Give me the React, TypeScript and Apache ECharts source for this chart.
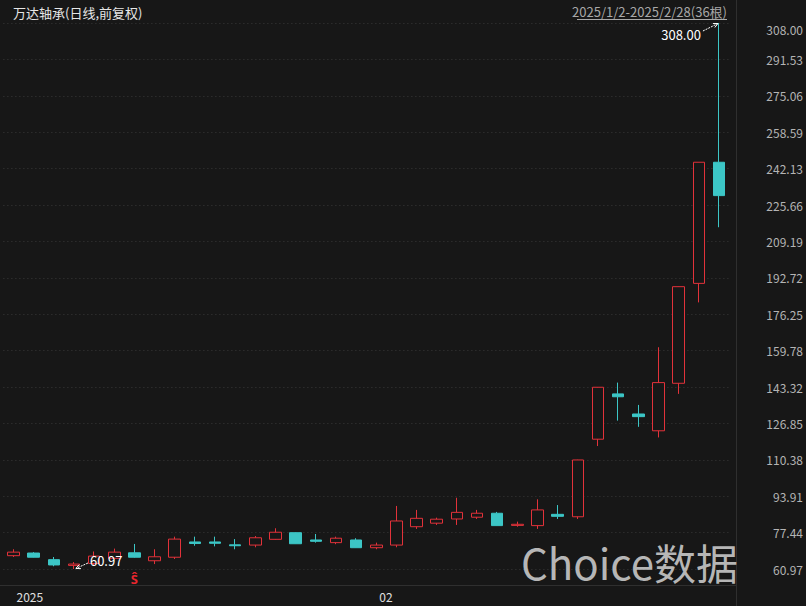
import React, { useEffect, useRef } from 'react';
import * as echarts from 'echarts';

const dates = [
  '2025-01-02', '2025-01-03', '2025-01-06', '2025-01-07', '2025-01-08', '2025-01-09',
  '2025-01-10', '2025-01-13', '2025-01-14', '2025-01-15', '2025-01-16', '2025-01-17',
  '2025-01-20', '2025-01-21', '2025-01-22', '2025-01-23', '2025-01-24', '2025-01-27',
  '2025-02-05', '2025-02-06', '2025-02-07', '2025-02-10', '2025-02-11', '2025-02-12',
  '2025-02-13', '2025-02-14', '2025-02-17', '2025-02-18', '2025-02-19', '2025-02-20',
  '2025-02-21', '2025-02-24', '2025-02-25', '2025-02-26', '2025-02-27', '2025-02-28',
];
const opens = [
  67.0, 68.2, 65.2, 62.6, 63.5, 65.8, 68.3, 64.7, 66.3, 73.2, 73.2, 71.9,
  71.8, 74.4, 77.4, 74.1, 72.9, 74.1, 70.6, 71.8, 80.1, 81.7, 83.6, 84.4,
  86.2, 80.7, 80.6, 85.7, 84.6, 119.7, 140.2, 131.1, 123.5, 145.0, 190.2, 245.0,
];
const closes = [
  68.6, 66.3, 62.8, 63.2, 66.8, 68.6, 66.3, 66.5, 74.5, 72.5, 72.6, 71.5,
  75.1, 77.6, 72.4, 73.5, 74.9, 70.6, 71.8, 82.7, 83.9, 83.5, 86.6, 86.2,
  80.6, 81.2, 87.7, 84.8, 110.3, 143.2, 138.9, 129.9, 145.3, 188.7, 245.0, 229.9,
];
const lows = [
  66.4, 66.2, 62.2, 60.97, 62.3, 65.2, 66.1, 63.2, 65.5, 71.5, 71.2, 69.9,
  70.8, 74.2, 72.3, 72.9, 72.2, 70.5, 69.9, 70.8, 79.1, 80.9, 80.9, 83.6,
  80.5, 80.1, 79.1, 83.6, 83.6, 116.6, 128.1, 125.3, 120.5, 140.2, 181.6, 215.6,
];
const highs = [
  69.9, 68.6, 66.4, 64.1, 68.9, 70.2, 72.3, 69.9, 75.6, 75.6, 75.6, 74.5,
  75.9, 79.4, 77.5, 76.8, 75.6, 74.9, 72.9, 89.5, 87.7, 84.2, 93.2, 87.7,
  86.8, 82.4, 92.5, 89.9, 110.4, 143.3, 145.3, 135.2, 161.3, 188.8, 245.0, 308.0,
];
const yTickLabels = [
  '60.97', '77.44', '93.91', '110.38', '126.85', '143.32', '159.78', '176.25',
  '192.72', '209.19', '225.66', '242.13', '258.59', '275.06', '291.53', '308.00',
];
const xTickLabels: Record<string, string> = { '2025-01-02': '2025', '2025-02-05': '02' };
const signals = [{ date: '2025-01-10', text: 'Ŝ' }];
const titleText = '万达轴承(日线,前复权)';
const rangeText = '2025/1/2-2025/2/28(36根)';
const watermarkText = 'Choice数据';

const BG = '#171717';
const UP = '#e2323a';
const DOWN = '#3cc6c6';
const FONT = '"Noto Sans CJK SC", "Noto Sans", sans-serif';

function arrow(x1: number, y1: number, x2: number, y2: number) {
  const dx = x2 - x1;
  const dy = y2 - y1;
  const len = Math.sqrt(dx * dx + dy * dy) || 1;
  const ux = dx / len;
  const uy = dy / len;
  const h = 5;
  const a = 0.45;
  const cos = Math.cos(a);
  const sin = Math.sin(a);
  const l1 = [x2 - h * (ux * cos - uy * sin), y2 - h * (uy * cos + ux * sin)];
  const l2 = [x2 - h * (ux * cos + uy * sin), y2 - h * (uy * cos - ux * sin)];
  return [
    {
      type: 'line',
      shape: { x1, y1, x2, y2 },
      style: { stroke: '#ffffff', lineWidth: 1, lineDash: [2, 1] },
      silent: true,
      z: 100,
    },
    {
      type: 'polyline',
      shape: { points: [l1, [x2, y2], l2] },
      style: { stroke: '#ffffff', lineWidth: 1, fill: null },
      silent: true,
      z: 100,
    },
  ];
}

function txt(x: number, y: number, text: string, fill: string, font: string, align: string, valign = 'middle', z = 100) {
  return {
    type: 'text',
    x,
    y,
    silent: true,
    z,
    style: {
      text,
      fill,
      font,
      align,
      verticalAlign: valign,
      textAlign: align,
      textVerticalAlign: valign,
    },
  };
}

export default function App() {
  const ref = useRef<HTMLDivElement>(null);
  useEffect(() => {
    document.body.style.margin = '0';
    const chart = echarts.init(ref.current!, null, { renderer: 'svg' });
    const yMin = Number(yTickLabels[0]);
    const yMax = Number(yTickLabels[yTickLabels.length - 1]);
    const interval = (yMax - yMin) / (yTickLabels.length - 1);
    const data = dates.map((_, i) => [opens[i], closes[i], lows[i], highs[i]]);
    const gridBottomPx = 569;

    chart.setOption({
      animation: false,
      backgroundColor: BG,
      grid: { left: 3.4, right: 74.6, top: 23, bottom: 606 - gridBottomPx },
      xAxis: {
        type: 'category',
        data: dates,
        boundaryGap: true,
        offset: 16,
        axisLine: { show: false },
        axisTick: { show: false },
        splitLine: { show: false },
        axisLabel: {
          interval: 0,
          formatter: (v: string) => xTickLabels[v] ?? '',
          align: 'left',
          padding: [0, 0, 0, 3],
          margin: 5,
          color: '#e0e0e0',
          fontSize: 12,
          fontFamily: FONT,
        },
      },
      yAxis: {
        type: 'value',
        position: 'right',
        min: yMin,
        max: yMax,
        interval,
        axisLine: { show: false },
        axisTick: { show: false },
        splitLine: { show: true, lineStyle: { color: '#383838', type: [1, 3], width: 1 } },
        axisLabel: {
          color: '#b4b4b4',
          fontSize: 12,
          fontFamily: FONT,
          align: 'right',
          margin: 74,
          verticalAlignMaxLabel: 'top',
          formatter: (v: number) => {
            const k = Math.round((v - yMin) / interval);
            return yTickLabels[k] ?? '';
          },
        },
      },
      series: [
        {
          type: 'candlestick',
          data,
          barWidth: 12,
          itemStyle: {
            color: BG,
            color0: DOWN,
            borderColor: UP,
            borderColor0: DOWN,
            borderWidth: 1,
          },
          emphasis: { disabled: true },
        },
      ],
    });

    const px = (i: number, v: number) =>
      chart.convertToPixel({ xAxisIndex: 0, yAxisIndex: 0 }, [i, v]) as number[];

    let maxIdx = 0;
    let minIdx = 0;
    highs.forEach((h, i) => { if (h > highs[maxIdx]) maxIdx = i; });
    lows.forEach((l, i) => { if (l < lows[minIdx]) minIdx = i; });
    const pMax = px(maxIdx, highs[maxIdx]);
    const pMin = px(minIdx, lows[minIdx]);

    const graphics: any[] = [];
    graphics.push({
      type: 'line', silent: true, z: 1,
      shape: { x1: 0, y1: gridBottomPx + 16.5, x2: 736, y2: gridBottomPx + 16.5 },
      style: { stroke: '#2f2f2f', lineWidth: 1 },
    });
    graphics.push({
      type: 'line', silent: true, z: 1,
      shape: { x1: 736.5, y1: 0, x2: 736.5, y2: 606 },
      style: { stroke: '#2f2f2f', lineWidth: 1 },
    });
    graphics.push(txt(13, 12, titleText, '#e6e6e6', `13px ${FONT}`, 'left'));
    graphics.push(txt(727, 11, rangeText, '#a8a8a8', `13px ${FONT}`, 'right'));
    graphics.push({
      type: 'line', silent: true, z: 100,
      shape: { x1: 577, y1: 19.5, x2: 727, y2: 19.5 },
      style: { stroke: '#a8a8a8', lineWidth: 1 },
    });
    graphics.push(txt(pMax[0] - 18, pMax[1] + 11, highs[maxIdx].toFixed(2), '#ffffff', `13px ${FONT}`, 'right'));
    graphics.push(...arrow(pMax[0] - 16, pMax[1] + 8, pMax[0] - 1, pMax[1] + 0.5));
    graphics.push(txt(pMin[0] + 16, pMin[1] - 9, lows[minIdx].toFixed(2), '#ffffff', `13px ${FONT}`, 'left'));
    graphics.push(...arrow(pMin[0] + 14, pMin[1] - 6, pMin[0] + 2, pMin[1] - 0.5));
    signals.forEach((s) => {
      const idx = dates.indexOf(s.date);
      const p = px(idx, yMin);
      graphics.push(txt(p[0], p[1] + 9, s.text, '#e8262e', `bold 13px ${FONT}`, 'center'));
    });
    graphics.push(txt(521, 561, watermarkText, 'rgba(205,205,205,0.88)', `42px ${FONT}`, 'left', 'middle', 50));

    chart.setOption({ graphic: graphics });

    return () => chart.dispose();
  }, []);
  return (
    <div
      ref={ref}
      style={{ position: 'fixed', left: 0, top: 0, width: 806, height: 606, background: BG }}
    />
  );
}
